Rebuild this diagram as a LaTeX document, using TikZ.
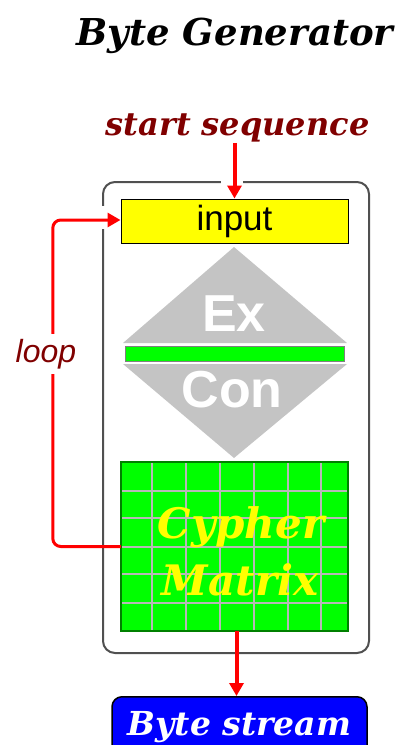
\documentclass[tikz,border=0pt]{standalone}
\usepackage{fontspec}
\newfontfamily\slab{DejaVu Serif}
\newfontfamily\arial{Liberation Sans}
\usetikzlibrary{arrows.meta}
\definecolor{darkred}{HTML}{800000}
\definecolor{pureRed}{HTML}{FF0000}
\definecolor{pureYellow}{HTML}{FFFF00}
\definecolor{pureGreen}{HTML}{00FF00}
\definecolor{pureBlue}{HTML}{0000FF}
\definecolor{diamondGray}{HTML}{C4C4C4}
\definecolor{frameGray}{HTML}{505050}
\definecolor{gridGray}{HTML}{B8B8B8}
\definecolor{matrixEdge}{HTML}{008000}
\tikzset{
  slabtext/.style={font=\slab\bfseries\itshape\fontsize{#1}{#1}\selectfont, inner sep=1pt},
  flow/.style={draw=pureRed, line width=4pt, -{Triangle[width=14pt,length=13pt]}},
  loopflow/.style={draw=pureRed, line width=3pt, rounded corners=8pt, -{Triangle[width=14pt,length=13pt]}},
  gridline/.style={draw=gridGray, line width=1.2pt},
  container/.style={draw=frameGray, line width=2pt, rounded corners=12pt, minimum width=266pt, minimum height=471pt, inner sep=0pt},
}
\begin{document}
\begin{tikzpicture}[x=1pt,y=-1pt]
\useasboundingbox (0,0) rectangle (400,745);

% title and input label
\node[slabtext=37, anchor=base] (title) at (235,45) {Byte Generator};
\node[slabtext=32, anchor=base, text=darkred] (start) at (237.5,135) {start sequence};

% generator frame with openings for the incoming arrows
\node[container] (gen) at (236,417.5) {};
\fill[white] (221,178) rectangle (243,186);
\fill[white] (99,206) rectangle (107,229);

% input register
\node[draw=black, line width=1pt, fill=pureYellow, minimum width=227pt, minimum height=44pt, inner sep=0pt,
      font=\arial\fontsize{35}{35}\selectfont] (input) at (234.5,221) {input};

% exchange / conversion diamond
\fill[diamondGray] (234,247) -- (347,343) -- (123,343) -- cycle;
\fill[diamondGray] (123,364) -- (347,364) -- (234,458) -- cycle;
\node[draw=gray, line width=1pt, fill=pureGreen, minimum width=219pt, minimum height=15pt, inner sep=0pt] (bar) at (234.5,353.5) {};
\node[text=white, font=\arial\bfseries\fontsize{52}{52}\selectfont, anchor=base, inner sep=0pt] (ex) at (234,331) {Ex};
\node[text=white, font=\arial\bfseries\fontsize{52}{52}\selectfont, anchor=base, inner sep=0pt] (con) at (232,407) {Con};

% cypher matrix
\node[fill=pureGreen, minimum width=227pt, minimum height=169pt, inner sep=0pt] (matrix) at (234.5,546.5) {};
\foreach \gx in {152,186,220,254,288,321} \draw[gridline] (\gx,462) -- (\gx,631);
\foreach \gy in {491,518,547,574,603} \draw[gridline] (121,\gy) -- (348,\gy);
\draw[matrixEdge, line width=1.5pt] (matrix.north west) rectangle (matrix.south east);
\node[slabtext=42, anchor=base, text=pureYellow] (cypher) at (241,538) {Cypher};
\node[slabtext=42, anchor=base, text=pureYellow] (mtx) at (240,595) {Matrix};

% output
\node[draw=black, line width=1.5pt, fill=pureBlue, rounded corners=10pt, minimum width=255pt, minimum height=60pt,
      anchor=north, text=white, slabtext=33] (bs) at (239.5,696) {Byte stream};

% connectors
\draw[flow] (start.south -| input.north) -- (input.north);
\draw[loopflow] (matrix.west) -- ++(-68,0) |- ([yshift=1pt]input.west);
\node[fill=white, inner xsep=2pt, inner ysep=5pt, anchor=base, text=darkred,
      font=\arial\itshape\fontsize{32}{32}\selectfont] (looplbl) at (46,362) {loop};
\draw[flow] ([xshift=2pt]matrix.south) -- ([xshift=2pt]matrix.south |- bs.north);
\end{tikzpicture}
\end{document}
